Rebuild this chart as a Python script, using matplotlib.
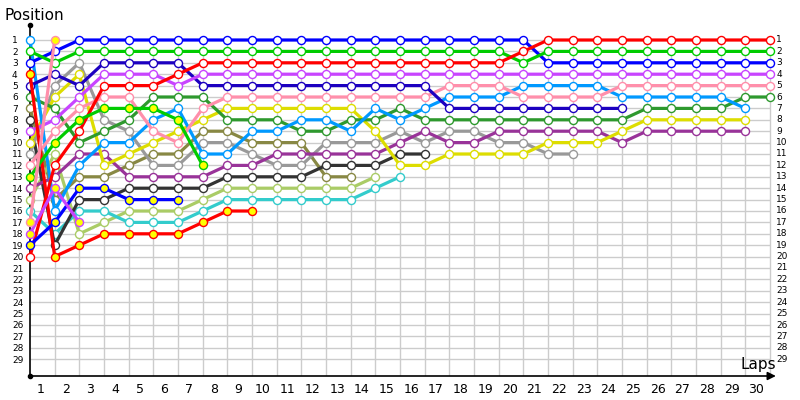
import matplotlib
matplotlib.use("Agg")
import matplotlib.pyplot as plt

# position of each driver per lap, lap 0 = grid
laps = list(range(0, 31))
positions = list(range(1, 30))
lap_labels = [str(k) for k in range(1, 31)]

red = [20, 12, 9, 5, 5, 5, 4, 3, 3, 3, 3, 3, 3, 3, 3, 3, 3, 3, 3, 3, 2, 1, 1, 1, 1, 1, 1, 1, 1, 1, 1]
green = [2, 3, 2, 2, 2, 2, 2, 2, 2, 2, 2, 2, 2, 2, 2, 2, 2, 2, 2, 2, 3, 2, 2, 2, 2, 2, 2, 2, 2, 2, 2]
blue = [3, 2, 1, 1, 1, 1, 1, 1, 1, 1, 1, 1, 1, 1, 1, 1, 1, 1, 1, 1, 1, 3, 3, 3, 3, 3, 3, 3, 3, 3, 3]
violet = [9, 8, 6, 4, 4, 4, 5, 4, 4, 4, 4, 4, 4, 4, 4, 4, 4, 4, 4, 4, 4, 4, 4, 4, 4, 4, 4, 4, 4, 4, 4]
pink = [12, 9, 7, 6, 6, 9, 10, 7, 6, 6, 6, 6, 6, 6, 6, 6, 6, 5, 5, 5, 6, 6, 6, 6, 5, 5, 5, 5, 5, 5, 5]
dark_green = [6, 7, 10, 9, 8, 6, 6, 6, 8, 8, 8, 9, 9, 8, 8, 7, 8, 8, 8, 8, 8, 8, 8, 8, 8, 7, 7, 7, 7, 6, 6]
light_blue = [1, 16, 12, 10, 10, 8, 7, 11, 11, 9, 9, 8, 8, 9, 7, 8, 7, 6, 6, 6, 5, 5, 5, 5, 6, 6, 6, 6, 6, 7]
yellow = [10, 6, 4, 12, 11, 10, 9, 8, 7, 7, 7, 7, 7, 7, 9, 12, 12, 11, 11, 11, 11, 10, 10, 10, 9, 8, 8, 8, 8, 8]
dark_purple = [14, 13, 11, 11, 13, 13, 13, 13, 12, 12, 11, 11, 11, 11, 11, 10, 9, 10, 10, 9, 9, 9, 9, 9, 10, 9, 9, 9, 9, 9]
navy = [5, 4, 5, 3, 3, 3, 3, 5, 5, 5, 5, 5, 5, 5, 5, 5, 5, 7, 7, 7, 7, 7, 7, 7, 7]
grey = [11, 5, 3, 8, 9, 12, 12, 10, 10, 11, 12, 12, 10, 10, 10, 9, 10, 9, 9, 10, 10, 11, 11]
black = [8, 19, 15, 15, 14, 14, 14, 14, 13, 13, 13, 13, 12, 12, 12, 11, 11]
turquoise = [16, 18, 16, 16, 17, 17, 17, 16, 15, 15, 15, 15, 15, 15, 14, 13]
light_green = [15, 11, 18, 17, 16, 16, 16, 15, 14, 14, 14, 14, 14, 14, 13]
olive = [7, 15, 13, 13, 12, 11, 11, 9, 9, 10, 10, 10, 13, 13]
# retired drivers (yellow markers)
red_out = [4, 20, 19, 18, 18, 18, 18, 17, 16, 16]
green_out = [13, 10, 8, 7, 7, 7, 8, 12]
blue_out = [19, 17, 14, 14, 15, 15, 15]
violet_out = [18, 14, 17]
pink_out = [17, 1]

series = [
    (olive, "#888844", False),
    (light_green, "#aacc66", False),
    (turquoise, "#33cccc", False),
    (black, "#333333", False),
    (grey, "#999999", False),
    (dark_purple, "#993399", False),
    (yellow, "#dddd00", False),
    (dark_green, "#2e992e", False),
    (light_blue, "#0099ff", False),
    (pink, "#ff8fab", False),
    (navy, "#1c00c0", False),
    (violet, "#c844ff", False),
    (blue, "#0000ff", False),
    (green, "#00cc00", False),
    (red, "#ff0000", False),
    (red_out, "#ff0000", True),
    (green_out, "#00cc00", True),
    (blue_out, "#0000ff", True),
    (violet_out, "#c844ff", True),
    (pink_out, "#ff8fab", True),
]

fig = plt.figure(figsize=(8, 4), dpi=100)
ax = fig.add_axes([30 / 800, 24 / 400, 752 / 800, 351 / 400])
xmax = 752 / 24.667
ybot = 1 + 336 / 11.4
ytop = 1 - 15 / 11.4
ax.set_xlim(0, xmax)
ax.set_ylim(ybot, ytop)
for s in ax.spines.values():
    s.set_visible(False)

# grid
ax.hlines(positions, 0, 30, color="#cccccc", lw=1, zorder=0)
ax.vlines(laps[1:], 1, ybot, color="#cccccc", lw=1, zorder=0)

for vals, col, out in series:
    ax.plot(laps[:len(vals)], vals, color=col, lw=2.3, marker="o", ms=5.8,
            mfc="#ffff00" if out else "white", mec=col, mew=1.0,
            solid_joinstyle="round", zorder=3, clip_on=False)

# axes lines
ax.plot([0, 0], [ybot, ytop], color="black", lw=1.2, zorder=2, clip_on=False)
ax.plot([0, 0], [ytop, ybot], "o", color="black", ms=3, zorder=2, clip_on=False)
ax.annotate("", xy=(30.35, ybot), xytext=(0, ybot), annotation_clip=False,
            arrowprops=dict(arrowstyle="-|>", color="black", lw=1.2, mutation_scale=12))

ax.set_xticks([k - 0.55 for k in range(1, 31)])
ax.set_xticklabels(lap_labels)
ax.tick_params(axis="x", length=0, pad=5, labelsize=9)
ax.set_yticks(positions)
ax.set_yticklabels([str(p) for p in positions])
ax.tick_params(axis="y", length=0, pad=13, labelsize=6.5)
for lab in ax.get_yticklabels():
    lab.set_ha("left")
for p in positions:
    ax.text(30.25, p, str(p), ha="left", va="center", fontsize=6.5, clip_on=False)

fig.text(5 / 800, 1 - 15 / 400, "Position", fontsize=11, ha="left", va="center")
fig.text(776 / 800, 1 - 364 / 400, "Laps", fontsize=11, ha="right", va="center")

fig.savefig("out.png", dpi=100)
